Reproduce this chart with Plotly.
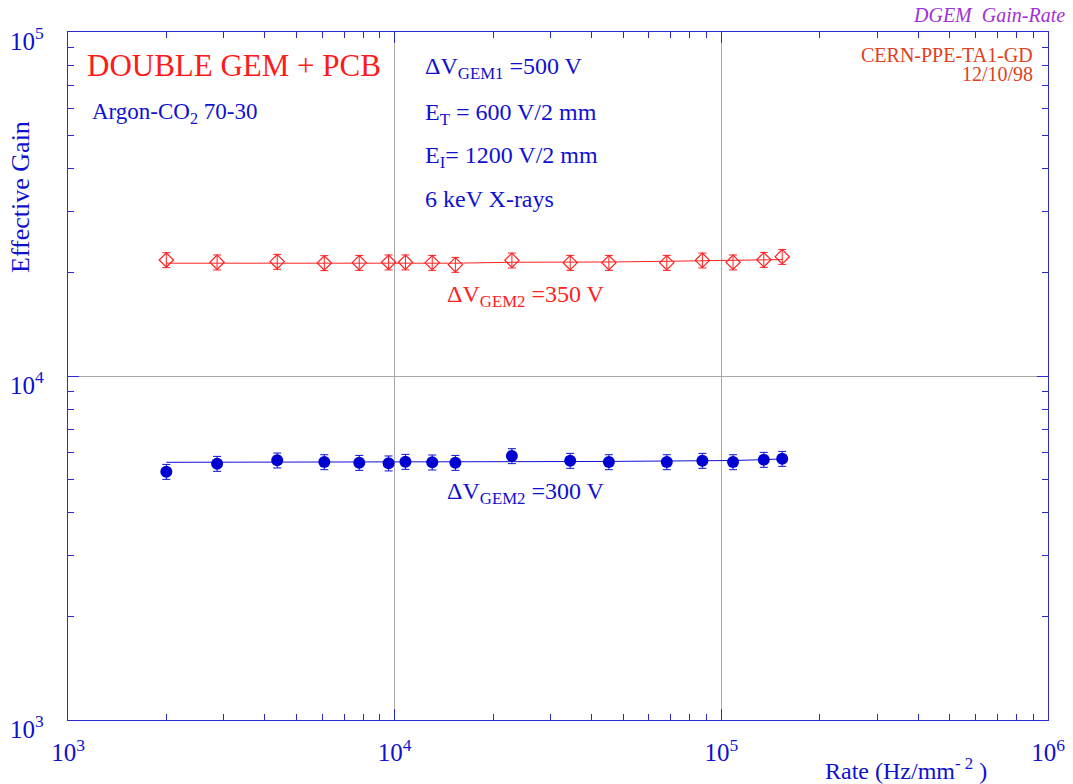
import plotly.graph_objects as go

# ---- data ----
rate = [2000, 2860, 4370, 6090, 7790, 9580, 10790, 13030, 15340, 22850,
        34460, 45270, 68080, 87500, 108600, 134900, 153600]
gain_350 = [21740, 21410, 21500, 21310, 21350, 21410, 21410, 21350, 21070, 21690,
            21350, 21350, 21350, 21690, 21410, 21780, 22220]
gain_300 = [5270, 5561, 5688, 5623, 5597, 5576, 5636, 5612, 5597, 5855,
            5674, 5623, 5623, 5674, 5623, 5712, 5750]
fit_350 = [21280, 21280, 21280, 21280, 21280, 21280, 21280, 21280, 21280, 21410,
           21410, 21450, 21550, 21620, 21700, 21780, 21800]
fit_300 = [5612, 5612, 5612, 5612, 5612, 5612, 5612, 5612, 5612, 5636,
           5640, 5645, 5655, 5674, 5680, 5712, 5740]
err_pct = 5.0

x_major = [1e3, 1e4, 1e5, 1e6]
x_major_text = ["10<sup>3</sup>", "10<sup>4</sup>", "10<sup>5</sup>", "10<sup>6</sup>"]
y_major = [1e3, 1e4, 1e5]
y_major_text = ["10<sup>3</sup>", "10<sup>4</sup>", "10<sup>5</sup>"]
x_minor = [m * 10 ** e for e in (3, 4, 5) for m in range(2, 10)]
y_minor = [m * 10 ** e for e in (3, 4) for m in range(2, 10)]

BLUE = "#1010d0"
AXBLUE = "#2a2ad0"
RED = "#ff2020"
SERIF = "Liberation Serif, Times New Roman, serif"

fig = go.Figure()

fig.add_trace(go.Scatter(x=rate, y=fit_350, mode="lines",
                         line=dict(color=RED, width=1), hoverinfo="skip", showlegend=False))
fig.add_trace(go.Scatter(x=rate, y=fit_300, mode="lines",
                         line=dict(color=BLUE, width=1), hoverinfo="skip", showlegend=False))
fig.add_trace(go.Scatter(x=rate, y=gain_350, mode="markers",
                         marker=dict(symbol="diamond-open", size=11, color=RED, line=dict(width=1.2)),
                         error_y=dict(type="percent", value=err_pct, color=RED, thickness=1, width=4),
                         showlegend=False))
fig.add_trace(go.Scatter(x=rate, y=gain_300, mode="markers",
                         marker=dict(symbol="circle", size=12, color="#0000d0"),
                         error_y=dict(type="percent", value=err_pct, color=BLUE, thickness=1, width=4),
                         showlegend=False))

L, R, T, B = 68, 1047.7, 32, 720
W, H = R - L, B - T


def px(xp):
    return (xp - L) / W


def py(yp):
    return (B - yp) / H


annots = [
    dict(text="DOUBLE GEM + PCB", x=px(85), y=py(66), xanchor="left", yanchor="middle",
         font=dict(size=31, color="#ff1a1a", family=SERIF)),
    dict(text="Argon-CO<sub>2</sub> 70-30", x=px(90), y=py(113), xanchor="left", yanchor="middle",
         font=dict(size=23, color=BLUE, family=SERIF)),
    dict(text="ΔV<sub>GEM1</sub> =500 V", x=px(423), y=py(68), xanchor="left", yanchor="middle",
         font=dict(size=24, color=BLUE, family=SERIF)),
    dict(text="E<sub>T</sub> = 600 V/2 mm", x=px(423), y=py(114), xanchor="left", yanchor="middle",
         font=dict(size=24, color=BLUE, family=SERIF)),
    dict(text="E<sub>I</sub>= 1200 V/2 mm", x=px(423), y=py(157), xanchor="left", yanchor="middle",
         font=dict(size=24, color=BLUE, family=SERIF)),
    dict(text="6 keV X-rays", x=px(423), y=py(199), xanchor="left", yanchor="middle",
         font=dict(size=24, color=BLUE, family=SERIF)),
    dict(text="ΔV<sub>GEM2</sub> =350 V", x=px(445), y=py(296), xanchor="left", yanchor="middle",
         font=dict(size=24, color=RED, family=SERIF)),
    dict(text="ΔV<sub>GEM2</sub> =300 V", x=px(445), y=py(493), xanchor="left", yanchor="middle",
         font=dict(size=24, color=BLUE, family=SERIF)),
    dict(text="CERN-PPE-TA1-GD", x=px(1035), y=py(55), xanchor="right", yanchor="middle",
         font=dict(size=20, color="#e0401c", family=SERIF)),
    dict(text="12/10/98", x=px(1035), y=py(74), xanchor="right", yanchor="middle",
         font=dict(size=20, color="#e0401c", family=SERIF)),
    dict(text="<i>DGEM  Gain-Rate</i>", x=px(1067), y=py(15), xanchor="right", yanchor="middle",
         font=dict(size=20, color="#a030d8", family=SERIF)),
    dict(text="Rate (Hz/mm<sup>- 2</sup> )", x=px(823), y=py(769), xanchor="left", yanchor="middle",
         font=dict(size=24, color=BLUE, family=SERIF)),
    dict(text="Effective Gain", x=px(20), y=py(197), xanchor="center", yanchor="middle",
         textangle=-90, font=dict(size=26, color=BLUE, family=SERIF)),
]
for a in annots:
    a.update(xref="paper", yref="paper", showarrow=False)

fig.update_layout(
    width=1073, height=784,
    margin=dict(l=L, r=1073 - R, t=T, b=784 - B, autoexpand=False),
    paper_bgcolor="white", plot_bgcolor="white",
    annotations=annots,
    font=dict(family=SERIF, color=BLUE),
)

fig.update_xaxes(
    type="log", range=[3, 6], automargin=False,
    tickvals=x_major, ticktext=x_major_text,
    ticks="inside", ticklen=11, tickcolor=AXBLUE, tickwidth=1,
    showline=True, linecolor=AXBLUE, linewidth=1.3, mirror="allticks",
    showgrid=True, gridcolor="#a8a8a8", gridwidth=1,
    zeroline=False,
    tickfont=dict(size=25, color=BLUE, family=SERIF),
    ticklabelstandoff=10,
    minor=dict(tickvals=x_minor, ticks="inside", ticklen=6, tickcolor=AXBLUE, showgrid=False),
)
fig.update_yaxes(
    type="log", range=[3, 5], automargin=False,
    tickvals=y_major, ticktext=y_major_text,
    ticks="inside", ticklen=11, tickcolor=AXBLUE, tickwidth=1,
    showline=True, linecolor=AXBLUE, linewidth=1.3, mirror="allticks",
    showgrid=True, gridcolor="#a8a8a8", gridwidth=1,
    zeroline=False,
    tickfont=dict(size=25, color=BLUE, family=SERIF),
    ticklabelstandoff=18, ticklabelshift=9,
    minor=dict(tickvals=y_minor, ticks="inside", ticklen=6, tickcolor=AXBLUE, showgrid=False),
)

fig.write_html("out.html")
